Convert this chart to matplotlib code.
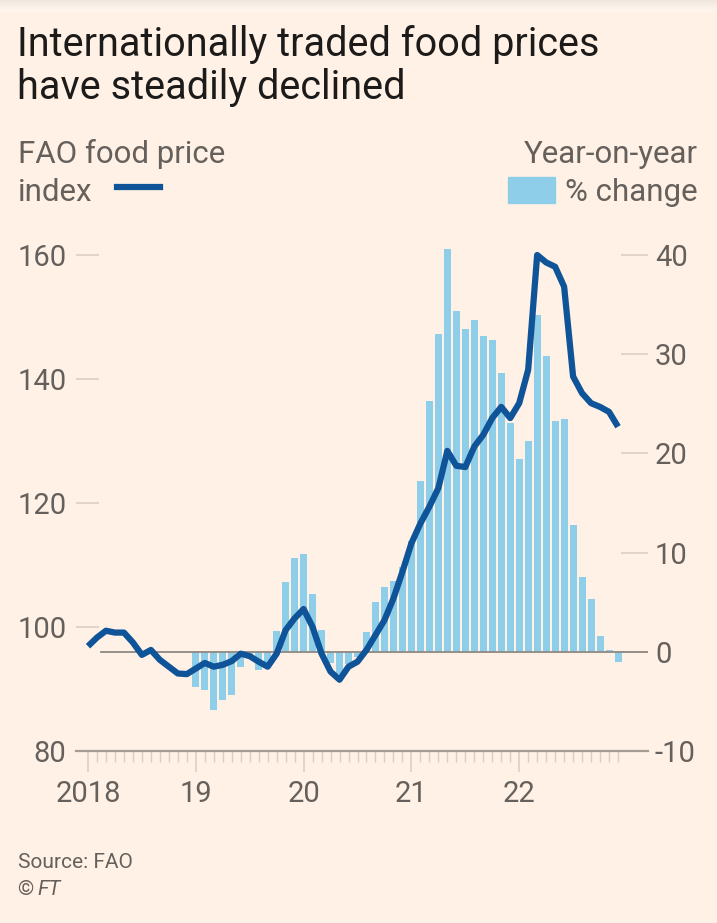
import numpy as np
import matplotlib.pyplot as plt
from matplotlib.patches import Rectangle
from matplotlib.lines import Line2D

# FAO food price index, monthly Jan 2018 - Dec 2022
index_2018 = [96.9, 98.3, 99.4, 99.1, 99.1, 97.5, 95.5, 96.3, 94.7, 93.6, 92.5, 92.4]
index_2019 = [93.3, 94.2, 93.6, 93.9, 94.5, 95.7, 95.3, 94.4, 93.6, 95.7, 99.5, 101.4]
index_2020 = [102.9, 100.0, 95.7, 92.8, 91.5, 93.6, 94.4, 96.3, 98.7, 101.1, 104.6, 108.9]
index_2021 = [113.5, 116.7, 119.4, 122.4, 128.4, 126.0, 125.8, 129.1, 131.0, 133.7, 135.5, 133.7]
index_2022 = [136.1, 141.5, 160.0, 158.8, 158.1, 154.9, 140.4, 137.7, 136.1, 135.5, 134.7, 132.3]

# year-on-year % change (no bars shown for 2018)
yoy_2018 = [np.nan] * 12
yoy_2019 = [-3.5, -3.9, -5.9, -4.9, -4.4, -1.5, -0.4, -1.8, -1.6, 2.1, 7.0, 9.5]
yoy_2020 = [9.9, 5.8, 2.2, -1.1, -2.2, -1.2, -0.5, 2.0, 5.0, 6.5, 7.1, 8.5]
yoy_2021 = [11.2, 17.2, 25.3, 32.0, 40.6, 34.4, 32.5, 33.4, 31.8, 31.4, 28.1, 23.1]
yoy_2022 = [19.4, 21.2, 34.0, 29.8, 23.3, 23.5, 12.8, 7.5, 5.3, 1.6, 0.2, -1.0]

start_year = 2018
year_ticks = [2018, 2019, 2020, 2021, 2022]
year_labels = ['2018', '19', '20', '21', '22']
left_ticks = [80, 100, 120, 140, 160]
right_ticks = [-10, 0, 10, 20, 30, 40]

index = np.array(index_2018 + index_2019 + index_2020 + index_2021 + index_2022)
yoy = np.array(yoy_2018 + yoy_2019 + yoy_2020 + yoy_2021 + yoy_2022)
x = start_year + np.arange(len(index)) / 12

BG = '#fff1e5'
LINE = '#0f5499'
BAR = '#8fcee8'
GREY = '#66605c'
STUB = '#d8cdc3'

plt.rcParams['font.family'] = ['Roboto', 'DejaVu Sans']
plt.rcParams['axes.unicode_minus'] = False

W, H = 717, 923
fig = plt.figure(figsize=(W / 100, H / 100), dpi=100, facecolor=BG)

def fx(px):
    return px / W

def fy(py):
    return 1 - py / H

# faint shadow along the top edge
sh = fig.add_axes([0, fy(12), 1, 12 / H])
grad = np.linspace(0, 1, 50).reshape(-1, 1)
sh.imshow(grad, aspect='auto', cmap='Greys_r', vmin=-2.5, vmax=1, alpha=0.35,
          extent=[0, 1, 0, 1], origin='upper')
sh.axis('off')

ax_left, ax_right, ax_top, ax_bot = 76, 648, 235, 751
ax = fig.add_axes([fx(ax_left), fy(ax_bot), fx(ax_right - ax_left), (ax_bot - ax_top) / H])
ax2 = ax.twinx()

lo, hi = 80, 80 + (ax_bot - ax_top) / 6.2
ax.set_ylim(lo, hi)
ax2.set_ylim(-10 + (lo - 80) / 1.6, -10 + (hi - 80) / 1.6)
ax.set_xlim(2018 - 12 / 107.8, 2018 + (ax_right - 88) / 107.8)

ax.set_zorder(ax2.get_zorder() + 1)
ax.patch.set_visible(False)
ax2.patch.set_visible(False)

# bars (right axis)
ax2.bar(x, yoy, width=0.78 / 12, color=BAR, zorder=1)
ax2.axhline(0, xmin=(100.5 - ax_left) / (ax_right - ax_left), xmax=1,
            color='#8f8882', lw=1.3, zorder=2)

# index line (left axis)
ax.plot(x, index, color=LINE, lw=4.5, solid_joinstyle='round',
        solid_capstyle='butt', zorder=3)

for a in (ax, ax2):
    for s in ('top', 'right', 'left'):
        a.spines[s].set_visible(False)
ax2.spines['bottom'].set_visible(False)
ax.spines['bottom'].set_color('#a49c95')
ax.spines['bottom'].set_linewidth(1.6)

ax.set_yticks(left_ticks)
ax.set_yticklabels([str(v) for v in left_ticks])
ax.tick_params(axis='y', direction='in', length=16.5, width=1.1, color=STUB,
               labelsize=21, labelcolor=GREY, pad=7)

ax2.set_yticks(right_ticks)
ax2.set_yticklabels([str(v) for v in right_ticks])
ax2.tick_params(axis='y', direction='in', length=19.5, width=1.1, color=STUB,
                labelsize=21, labelcolor=GREY, pad=5)

ax.set_xticks(year_ticks)
ax.set_xticklabels(year_labels)
ax.set_xticks(x, minor=True)
ax.tick_params(axis='x', which='major', direction='out', length=15, width=1.1,
               color=STUB, labelsize=21, labelcolor=GREY, pad=6)
ax.tick_params(axis='x', which='minor', direction='out', length=8, width=1.0,
               color=STUB)

# header
fig.text(fx(17), fy(56), 'Internationally traded food prices', fontsize=28.5,
         color='#1d1b1a', va='baseline')
fig.text(fx(17), fy(99), 'have steadily declined', fontsize=28.5,
         color='#1d1b1a', va='baseline')

fig.text(fx(18), fy(163), 'FAO food price', fontsize=22.5, color=GREY, va='baseline')
fig.text(fx(18), fy(201), 'index', fontsize=22.5, color=GREY, va='baseline')
fig.add_artist(Line2D([fx(117), fx(160)], [fy(187), fy(187)], color=LINE, lw=4.5,
                      transform=fig.transFigure))

fig.text(fx(698), fy(163), 'Year-on-year', fontsize=22.5, color=GREY,
         va='baseline', ha='right')
fig.text(fx(698), fy(201), '% change', fontsize=22.5, color=GREY,
         va='baseline', ha='right')
fig.add_artist(Rectangle((fx(508), fy(203)), fx(555 - 508), (203 - 177) / H,
                         color=BAR, transform=fig.transFigure))

# footer
fig.text(fx(18), fy(868), 'Source: FAO', fontsize=15, color=GREY, va='baseline')
fig.text(fx(17), fy(895), '\u00a9', fontsize=15, color=GREY, va='baseline')
fig.text(fx(37), fy(895), 'FT', fontsize=15, color=GREY, va='baseline', style='italic')

fig.savefig('out.png', dpi=100, facecolor=BG)
